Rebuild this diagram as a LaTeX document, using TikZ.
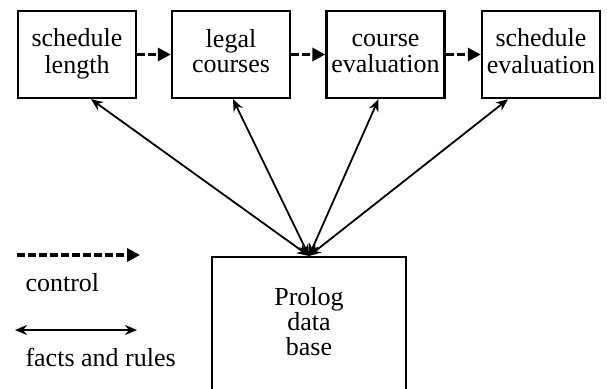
\documentclass[tikz,border=0pt]{standalone}
\usepackage{fontspec}
\setmainfont{Liberation Serif}
\usetikzlibrary{arrows.meta}

\begin{document}
\begin{tikzpicture}[x=1pt, y=-1pt,
    font=\fontsize{26}{25}\selectfont,
    stagebox/.style={draw, line width=2.4pt, minimum width=118pt, minimum height=87pt, align=center, inner sep=0pt},
    control/.style={line width=3.6pt, dash pattern=on 8pt off 3pt, -{Triangle[length=13pt,width=13pt]}},
    fact/.style={line width=1.8pt, {Stealth[length=12pt,width=10pt]}-{Stealth[length=12pt,width=10pt]}}]
    \useasboundingbox (0,0) rectangle (607,388);
    \clip (0,0) rectangle (607,388);

    % stages
    \foreach \n/\x/\txt in {1/77/schedule\\length, 2/231/legal\\courses, 3/385.5/course\\evaluation, 4/541/schedule\\evaluation} {
        \node[stagebox] (s\n) at (\x, 54.5) {\strut\txt\strut};
    }

    % data base
    \node[draw, line width=1.8pt, minimum width=194pt, minimum height=150pt, anchor=north] (db) at (309, 256) {};
    \node[align=center] (dbtext) at (309, 322) {Prolog\\data\\base};

    % control flow
    \draw[control] (s1) -- (s2);
    \draw[control] (s2) -- (s3);
    \draw[control] (s3) -- (s4);

    % facts and rules
    \draw[fact] (db.north) -- ([xshift=14pt]s1.south);
    \draw[fact] (db.north) -- ([xshift=2pt]s2.south);
    \draw[fact] (db.north) -- ([xshift=-7pt]s3.south);
    \draw[fact] (db.north) -- ([xshift=-33pt]s4.south);

    % legend
    \coordinate (c1) at (17, 255);
    \coordinate (c2) at (140, 255);
    \draw[control] (c1) -- (c2);
    \node[anchor=west] (ctext) at (22, 283) {control};
    \coordinate (f1) at (15, 330);
    \coordinate (f2) at (137, 330);
    \draw[fact] (f1) -- (f2);
    \node[anchor=west] (ftext) at (22, 357) {facts and rules};
\end{tikzpicture}
\end{document}
